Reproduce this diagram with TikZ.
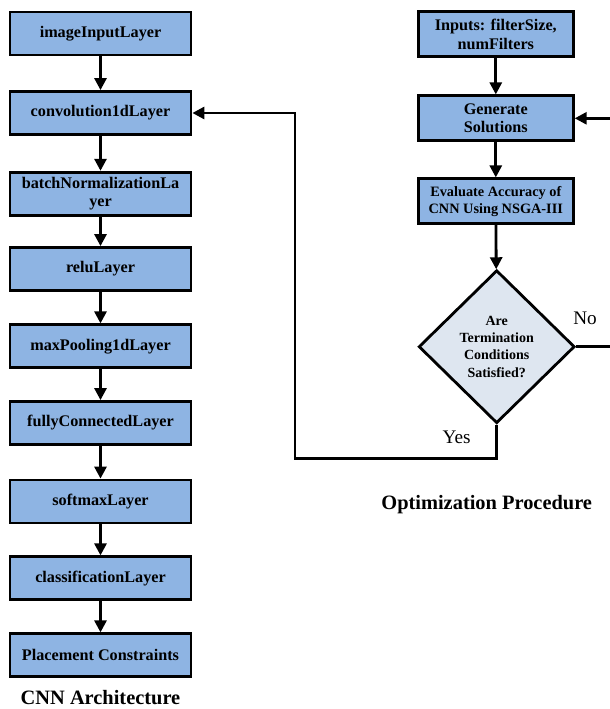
\documentclass[tikz,border=0pt]{standalone}
\usepackage{fontspec}
\setmainfont{Liberation Serif}
\usetikzlibrary{arrows.meta,shapes.geometric}

\definecolor{layerblue}{RGB}{142,180,227}
\definecolor{checkfill}{RGB}{222,230,240}

\tikzset{
  layerbox/.style={draw, line width=1.4pt, fill=layerblue, inner sep=0pt, align=center,
    minimum width=90.5pt, minimum height=21.5pt, font=\fontsize{8.1}{9.2}\selectfont\bfseries},
  optbox/.style={layerbox, minimum width=77.5pt, minimum height=22.5pt},
  decision/.style={diamond, draw, line width=1.4pt, fill=checkfill, inner sep=0pt, align=center,
    minimum width=78pt, minimum height=76.5pt, font=\fontsize{7}{8.7}\selectfont\bfseries},
  flow/.style={line width=1.4pt, -{Triangle[width=6pt,length=6pt]}},
  answer/.style={font=\fontsize{9.6}{11}\selectfont},
  caption/.style={font=\fontsize{10.2}{12}\selectfont\bfseries}
}

\begin{document}
\begin{tikzpicture}[x=0.5pt, y=-0.5pt]
  \useasboundingbox (0,0) rectangle (610,709);

  \node [layerbox] (input) at (100.5, 33.5) {imageInputLayer};
  \node [layerbox] (conv) at (100.5, 113) {convolution1dLayer};
  \node [layerbox] (bnorm) at (100.5, 193.7) {batchNormalizationLa\\yer};
  \node [layerbox] (relu) at (100.5, 269) {reluLayer};
  \node [layerbox] (pool) at (100.5, 346.3) {maxPooling1dLayer};
  \node [layerbox] (fc) at (100.5, 423) {fullyConnectedLayer};
  \node [layerbox] (soft) at (100.5, 501.5) {softmaxLayer};
  \node [layerbox] (class) at (100.5, 578.3) {classificationLayer};
  \node [layerbox] (place) at (100.5, 655.3) {Placement Constraints};
  \node [caption] (cnntitle) at (100.5, 698) {CNN Architecture};

  \foreach \a/\b in {input/conv, conv/bnorm, bnorm/relu, relu/pool, pool/fc, fc/soft, soft/class, class/place}
    \draw [flow] (\a) -- (\b);

  \node [optbox] (inputs) at (495.8, 34.2) {Inputs: filterSize,\\numFilters};
  \node [optbox] (gen) at (495.8, 118.3) {Generate\\Solutions};
  \node [optbox, font=\fontsize{7.15}{8.7}\selectfont\bfseries] (eval) at (495.8, 201.3) {Evaluate Accuracy of\\CNN Using NSGA-III};
  \node [decision] (check) at (496.7, 346.7) {Are\\Termination\\Conditions\\Satisfied?};
  \node [caption] (opttitle) at (486.7, 505) {Optimization Procedure};

  \draw [flow] (inputs) -- (gen);
  \draw [flow] (gen) -- (eval);
  \draw [flow] (eval) -- (check);

  \coordinate (yesdown) at (496.7, 458.3);
  \coordinate (yesleft) at (295, 458.3);
  \draw [flow] (check.south) -- (yesdown) -- (yesleft) |- (conv.east);
  \node [answer] (yes) at (456.7, 437) {Yes};

  \coordinate (noright) at (625, 346.7);
  \draw [flow] (check.east) -- (noright) |- (gen.east);
  \node [answer] (no) at (585, 318.3) {No};
\end{tikzpicture}
\end{document}
